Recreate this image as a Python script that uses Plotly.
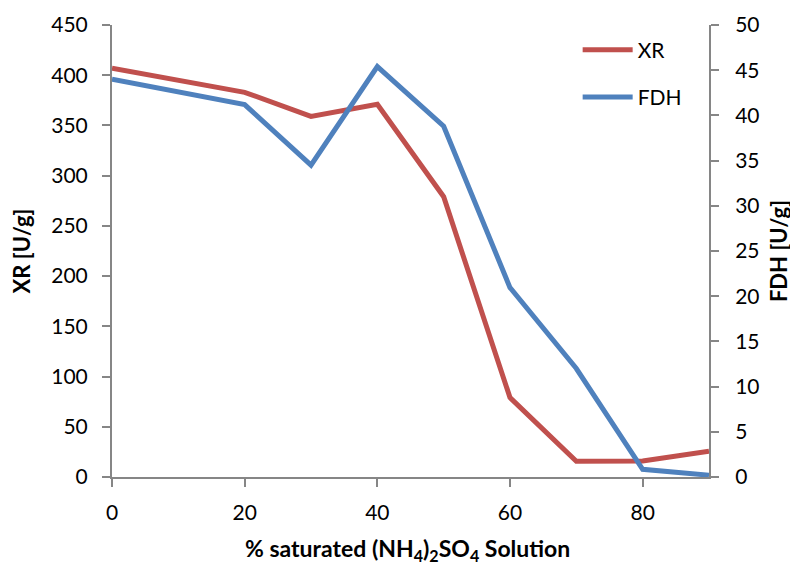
import plotly.graph_objects as go

saturation = [0, 20, 30, 40, 50, 60, 70, 80, 90]
xr_values = [407, 383, 359, 371, 279, 79, 15.6, 16, 25.6]
fdh_values = [44.0, 41.2, 34.5, 45.4, 38.8, 20.95, 12.0, 0.85, 0.2]
x_title = "% saturated (NH<sub>4</sub>)<sub>2</sub>SO<sub>4</sub> Solution"

RED = "#C0504D"
BLUE = "#4F81BD"
AXIS = "#868686"
FONT = "Lato"

fig = go.Figure()
fig.add_trace(go.Scatter(x=saturation, y=xr_values, name="XR", mode="lines",
                         line=dict(color=RED, width=5), yaxis="y", legendgroup="a"))
fig.add_trace(go.Scatter(x=saturation, y=fdh_values, name="FDH", mode="lines",
                         line=dict(color=BLUE, width=5), yaxis="y2", legendgroup="b"))

tickfont = dict(family=FONT, size=21, color="#000000")
titlefont = dict(family=FONT, size=22, color="#000000", weight="bold")
xtitlefont = dict(family=FONT, size=23, color="#000000", weight="bold")

fig.update_layout(
    width=790, height=556,
    margin=dict(l=104, r=89, t=17, b=87, pad=0, autoexpand=False),
    paper_bgcolor="white", plot_bgcolor="white",
    font=dict(family=FONT, size=21, color="#000000"),
    showlegend=True,
    legend=dict(x=0.78, y=0.99, xanchor="left", yanchor="top",
                font=dict(family=FONT, size=21, color="#000000"),
                traceorder="grouped", tracegroupgap=17,
                bgcolor="rgba(0,0,0,0)", itemwidth=50),
    xaxis=dict(range=[0, 90], tickvals=[0, 20, 40, 60, 80], showgrid=False, zeroline=False,
               showline=True, linecolor=AXIS, linewidth=2, ticks="outside",
               tickcolor=AXIS, ticklen=8, tickwidth=2, tickfont=tickfont,
               ticklabelstandoff=8, automargin=False),
    yaxis=dict(range=[0, 450], dtick=50, showgrid=False, zeroline=False,
               showline=True, linecolor=AXIS, linewidth=2, ticks="outside",
               tickcolor=AXIS, ticklen=8, tickwidth=2, tickfont=tickfont,
               ticklabelstandoff=10, automargin=False,
               title=dict(text="XR [U/g]", font=titlefont, standoff=17)),
    yaxis2=dict(range=[0, 50], dtick=5, overlaying="y", side="right", showgrid=False,
                zeroline=False, showline=True, linecolor=AXIS, linewidth=2,
                ticks="outside", tickcolor=AXIS, ticklen=8, tickwidth=2, tickfont=tickfont,
                ticklabelstandoff=12, automargin=False,
                title=dict(text="FDH [U/g]", font=titlefont, standoff=13)),
    annotations=[dict(text=x_title, xref="paper", yref="paper", x=0.495, y=0,
                      xanchor="center", yanchor="middle", yshift=-72, showarrow=False,
                      font=xtitlefont)],
)

fig.write_html("out.html")
